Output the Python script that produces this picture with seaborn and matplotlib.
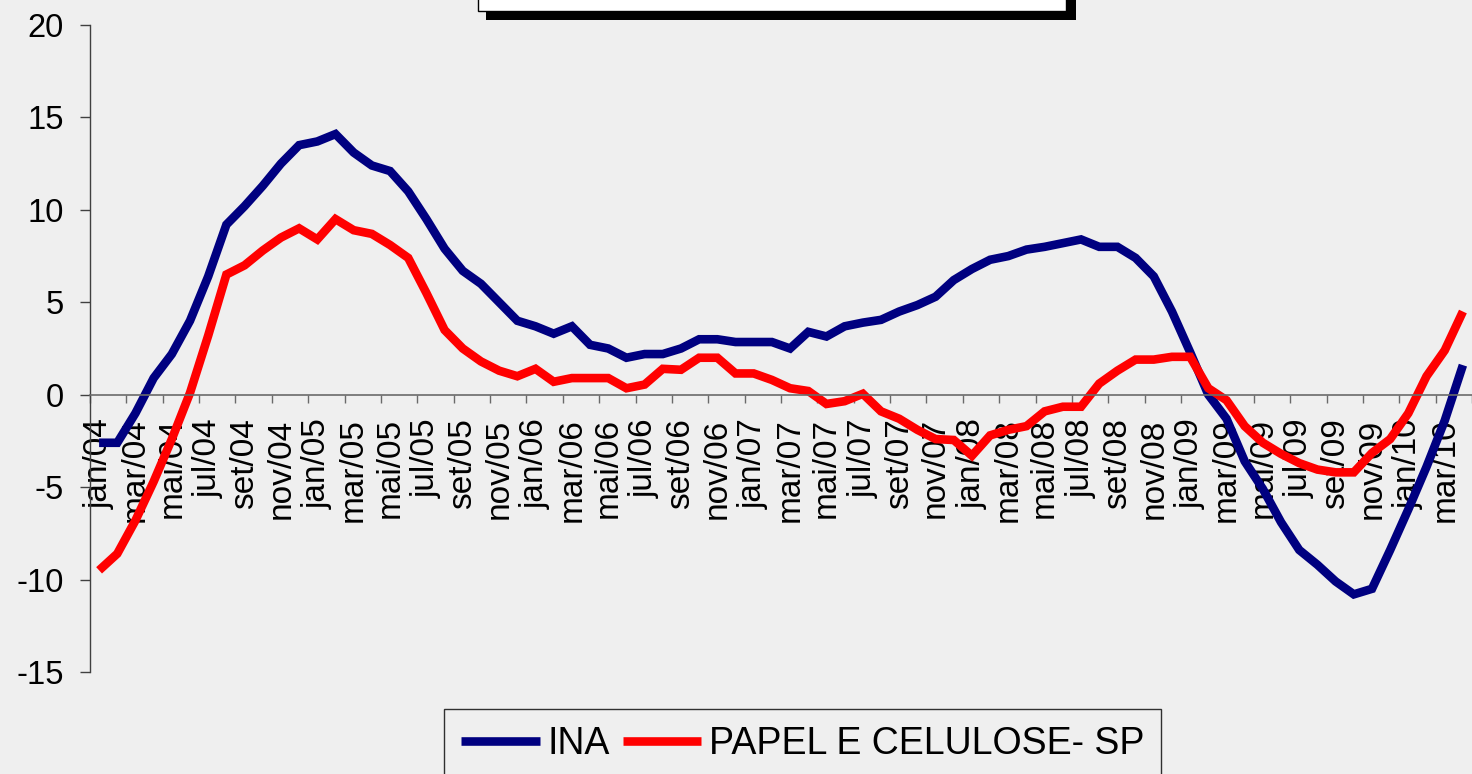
import numpy as np
import pandas as pd
import matplotlib.pyplot as plt
from matplotlib.patches import Rectangle
import seaborn as sns

# Data (monthly, jan/04 - abr/10)
meses = ["jan", "fev", "mar", "abr", "mai", "jun", "jul", "ago", "set", "out", "nov", "dez"]
anos = ["04", "05", "06", "07", "08", "09", "10"]
periodos = [m + "/" + a for a in anos for m in meses][:76]

ina = [-2.6, -2.6, -1.0, 0.9, 2.2, 4.0, 6.4, 9.2, 10.2, 11.3, 12.5, 13.5,
       13.7, 14.1, 13.1, 12.4, 12.1, 11.0, 9.5, 7.9, 6.7, 6.0, 5.0, 4.0,
       3.7, 3.3, 3.7, 2.7, 2.5, 2.0, 2.2, 2.2, 2.5, 3.0, 3.0, 2.85,
       2.85, 2.85, 2.5, 3.4, 3.15, 3.7, 3.9, 4.05, 4.5, 4.85, 5.3, 6.2,
       6.8, 7.3, 7.5, 7.85, 8.0, 8.2, 8.4, 8.0, 8.0, 7.4, 6.4, 4.5,
       2.3, 0.0, -1.3, -3.6, -5.1, -6.9, -8.4, -9.2, -10.1, -10.8, -10.5, -8.4,
       -6.2, -3.9, -1.4, 1.6]

papel = [-9.5, -8.6, -6.8, -4.7, -2.4, 0.1, 3.2, 6.5, 7.0, 7.8, 8.5, 9.0,
         8.4, 9.5, 8.9, 8.7, 8.1, 7.4, 5.5, 3.5, 2.5, 1.8, 1.3, 1.0,
         1.4, 0.7, 0.9, 0.9, 0.9, 0.35, 0.55, 1.4, 1.35, 2.0, 2.0, 1.15,
         1.15, 0.8, 0.35, 0.2, -0.5, -0.35, 0.05, -0.9, -1.3, -1.9, -2.4, -2.45,
         -3.3, -2.2, -1.9, -1.7, -0.9, -0.65, -0.65, 0.6, 1.3, 1.9, 1.9, 2.05,
         2.05, 0.35, -0.3, -1.7, -2.6, -3.2, -3.7, -4.05, -4.2, -4.2, -3.15, -2.4,
         -1.0, 1.0, 2.4, 4.5]

series = ["INA", "PAPEL E CELULOSE- SP"]
cores = ["#000080", "#ff0000"]

n = len(periodos)
df = pd.DataFrame({
    "idx": list(range(n)) * 2,
    "valor": ina + papel,
    "serie": [series[0]] * n + [series[1]] * n,
})

sns.set_style("white")
plt.rcParams["font.family"] = ["Liberation Sans", "DejaVu Sans"]
plt.rcParams["axes.unicode_minus"] = False
plt.rcParams["text.color"] = "black"

fig = plt.figure(figsize=(14.72, 7.74), dpi=100, facecolor="#efefef")
ax = fig.add_axes([90 / 1472, 1 - 672 / 774, 1 - 90 / 1472, (672 - 25) / 774])
ax.set_facecolor("none")

sns.lineplot(data=df, x="idx", y="valor", hue="serie", palette=cores,
             linewidth=6.2, legend=False, ax=ax, sort=False)
for ln in ax.get_lines():
    ln.set_solid_joinstyle("miter")
    ln.set_solid_capstyle("butt")

ax.set_xlim(-0.5, 74.85)
ax.set_ylim(-15, 20)
ax.set_yticks(np.arange(-15, 21, 5))
ax.set_xlabel("")
ax.set_ylabel("")

# axes: left spine + zero line with category ticks
for s in ["top", "right"]:
    ax.spines[s].set_visible(False)
ax.spines["left"].set_color("#404040")
ax.spines["left"].set_linewidth(1)
ax.spines["bottom"].set_position(("data", 0))
ax.spines["bottom"].set_color("#6a6a6a")
ax.spines["bottom"].set_linewidth(1.2)

ax.set_xticks(np.arange(-0.5, n, 2))
ax.set_xticklabels([])
ax.set_xticks(np.arange(0, n, 2), minor=True)
ax.set_xticklabels(periodos[::2], minor=True, rotation=90)
ax.tick_params(axis="x", which="major", bottom=True, direction="out", length=6,
               width=1, color="#6a6a6a")
ax.tick_params(axis="x", which="minor", bottom=True, length=0, pad=17,
               labelsize=24, labelcolor="black")
ax.tick_params(axis="y", left=True, direction="out", length=7, width=1,
               color="#404040", pad=12, labelsize=23.5, labelcolor="black")

# title frame (empty box with shadow) at the top
fig.add_artist(Rectangle((486 / 1472, 1 - 20 / 774), 590 / 1472, 40 / 774,
                         transform=fig.transFigure, facecolor="black", edgecolor="none"))
fig.add_artist(Rectangle((478 / 1472, 1 - 11 / 774), 588 / 1472, 30 / 774,
                         transform=fig.transFigure, facecolor="white",
                         edgecolor="black", linewidth=1))

leg = ax.legend(ax.get_lines()[:2], series, ncol=2, loc="upper left",
                bbox_to_anchor=(444 / 1472, 1 - 709 / 774), bbox_transform=fig.transFigure,
                fontsize=27, frameon=True, fancybox=False, edgecolor="black",
                facecolor="none", handlelength=2.1, handletextpad=0.2,
                columnspacing=0.35, borderpad=0.45, borderaxespad=0)
leg.get_frame().set_linewidth(1)
for t in leg.get_texts():
    t.set_color("black")

fig.savefig("out.png", dpi=100, facecolor=fig.get_facecolor())
